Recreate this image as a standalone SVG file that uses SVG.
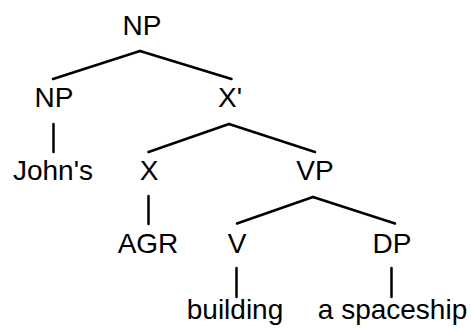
<svg xmlns="http://www.w3.org/2000/svg" width="471" height="331" viewBox="0 0 471 331">
<style>
text{font-family:"Liberation Sans",Arial,sans-serif;font-size:28px;fill:#000;text-anchor:middle}
line{stroke:#000;stroke-width:2.5;stroke-linecap:round}
</style>
<rect width="471" height="331" fill="#fff"/>
<g id="connectors">
<line x1="140" y1="51" x2="53" y2="79"/>
<line x1="140" y1="51" x2="231.5" y2="79"/>
<line x1="53.5" y1="124" x2="53.5" y2="152"/>
<line x1="229" y1="124" x2="148.5" y2="152"/>
<line x1="229" y1="124" x2="315" y2="152"/>
<line x1="148.5" y1="196" x2="148.5" y2="224"/>
<line x1="313" y1="197" x2="237" y2="223.5"/>
<line x1="313" y1="197" x2="395" y2="223.5"/>
<line x1="236.5" y1="268" x2="236.5" y2="297"/>
<line x1="391.5" y1="268" x2="391.5" y2="297"/>
</g>
<g id="np-root"><text x="142" y="35">NP</text></g>
<g id="np-left"><text x="54" y="107">NP</text></g>
<g id="xbar"><text x="230" y="107">X'</text></g>
<g id="johns"><text x="53" y="180">John's</text></g>
<g id="x"><text x="149" y="180">X</text></g>
<g id="vp"><text x="315" y="180">VP</text></g>
<g id="agr"><text x="148" y="253">AGR</text></g>
<g id="v"><text x="237" y="253">V</text></g>
<g id="dp"><text x="392" y="253">DP</text></g>
<g id="building"><text x="235" y="319">building</text></g>
<g id="spaceship"><text x="392.5" y="319">a spaceship</text></g>
</svg>
